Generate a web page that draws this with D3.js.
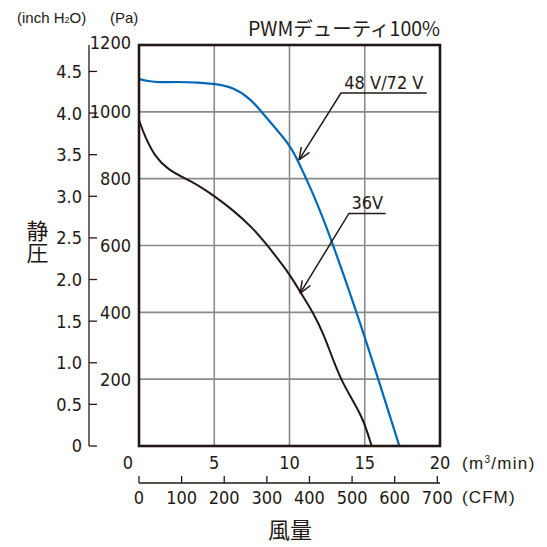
<!DOCTYPE html>
<html><head><meta charset="utf-8">
<script src="https://cdn.jsdelivr.net/npm/d3@7"></script>
<style>
html,body{margin:0;padding:0;background:#fff;}
svg text{fill:#231815;}
</style></head>
<body><svg id="c" width="547" height="547"></svg>
<script>
// ---- data ----
const seriesNames = ["48 V/72 V", "36V"];
const flow48 = [0, 0.6, 1.3, 2.5, 4, 5, 6.27, 7.38, 8.15, 9.1, 10.03, 10.6, 11.1, 11.48, 12.2, 12.91, 14.47, 15.9, 17.3];
const pres48 = [1098, 1092, 1088, 1090, 1088, 1084, 1074, 1040, 1000, 949, 900, 850, 800, 764, 685, 600, 400, 200, 0];
const flow36 = [0, 0.4, 1.06, 1.95, 3.06, 4.17, 5, 6.2, 7.6, 8.44, 9.3, 10.03, 10.8, 11.6, 12.25, 13.0, 13.5, 14.13, 14.8, 15.15, 15.46];
const pres36 = [975, 925, 866, 826, 801, 774, 748, 708, 651, 605, 556, 512, 455, 397, 337, 245, 192, 142, 88, 45, 0];
const paTicks = [200, 400, 600, 800, 1000, 1200];
const inchTicks = [0, 0.5, 1.0, 1.5, 2.0, 2.5, 3.0, 3.5, 4.0, 4.5];
const flowTicks = [0, 5, 10, 15, 20];
const cfmTicks = [0, 100, 200, 300, 400, 500, 600, 700];
const gridX = [5, 10, 15];
const gridY = [200, 400, 600, 800, 1000];
const title = "PWMデューティ100%";
const yTitle = "静圧";
const xTitle = "風量";
// annotation anchors in data units: tip, underline start, underline end
const notes = [
  {label: seriesNames[0], tip: [10.63, 856], start: [13.42, 1056], end: [19.12, 1056]},
  {label: seriesNames[1], tip: [10.70, 457], start: [13.95, 696], end: [16.39, 696]}
];
const PA_PER_INCH = 249.089, M3MIN_PER_CFM = 0.0283168;

// ---- drawing ----
const svg = d3.select("#c");
const ink = "#231815", blue = "#0068b7", gridC = "#8a8a8a";
const numFont = "'Liberation Sans Narrow','Arial Narrow','DejaVu Sans Condensed',sans-serif";
const sansFont = "'Liberation Sans',Arial,sans-serif";
const jpFont = "'Noto Sans CJK JP',sans-serif";
const L = 139, R = 440, T = 45, B = 446;
const x = d3.scaleLinear().domain([0, 20]).range([L, R]);
const y = d3.scaleLinear().domain([0, 1200]).range([B, T]);
const yIn = d3.scaleLinear().domain([0, 1200 / PA_PER_INCH]).range([B, T]);
const xCfm = d3.scaleLinear().domain([0, 20 / M3MIN_PER_CFM]).range([L, R]);

// grid
svg.append("g").selectAll("line").data(gridX).join("line")
  .attr("x1", d => x(d)).attr("x2", d => x(d)).attr("y1", T).attr("y2", B)
  .attr("stroke", gridC).attr("stroke-width", 1.6);
svg.append("g").selectAll("line").data(gridY).join("line")
  .attr("x1", L).attr("x2", R).attr("y1", d => y(d)).attr("y2", d => y(d))
  .attr("stroke", gridC).attr("stroke-width", 1.6);

// curves
const line = d3.line().x(d => x(d[0])).y(d => y(d[1])).curve(d3.curveBasis);
svg.append("path").datum(flow36.map((f, i) => [f, pres36[i]])).attr("d", line)
  .attr("fill", "none").attr("stroke", ink).attr("stroke-width", 2);
svg.append("path").datum(flow48.map((f, i) => [f, pres48[i]])).attr("d", line)
  .attr("fill", "none").attr("stroke", blue).attr("stroke-width", 2.2);

// frame
svg.append("rect").attr("x", L).attr("y", T).attr("width", R - L).attr("height", B - T)
  .attr("fill", "none").attr("stroke", ink).attr("stroke-width", 2.6);

// Pa labels
svg.append("g").selectAll("text").data(paTicks).join("text")
  .attr("x", 131).attr("y", d => y(d) - (d === 1200 ? 2 : 0)).attr("dy", "0.36em")
  .attr("text-anchor", "end").attr("font-family", numFont).attr("font-size", 18)
  .text(d => d);

// inch axis
const gIn = svg.append("g");
gIn.append("line").attr("x1", 89).attr("x2", 89).attr("y1", T).attr("y2", B)
  .attr("stroke", ink).attr("stroke-width", 1.3);
gIn.selectAll("line.t").data(inchTicks).join("line").attr("class", "t")
  .attr("x1", 89).attr("x2", 97).attr("y1", d => yIn(d)).attr("y2", d => yIn(d))
  .attr("stroke", ink).attr("stroke-width", 1.3);
gIn.selectAll("text").data(inchTicks).join("text")
  .attr("x", 82).attr("y", d => yIn(d)).attr("dy", "0.36em")
  .attr("text-anchor", "end").attr("font-family", numFont).attr("font-size", 18)
  .text(d => d === 0 ? "0" : d.toFixed(1));

// flow labels
svg.append("g").selectAll("text").data(flowTicks).join("text")
  .attr("x", d => x(d) + (d === 0 ? -11 : 0)).attr("y", 463).attr("dy", "0.36em")
  .attr("text-anchor", "middle").attr("font-family", numFont).attr("font-size", 18)
  .text(d => d);

// CFM axis
const gC = svg.append("g");
gC.append("line").attr("x1", L).attr("x2", R).attr("y1", 483).attr("y2", 483)
  .attr("stroke", ink).attr("stroke-width", 1.3);
gC.selectAll("line.t").data(cfmTicks).join("line").attr("class", "t")
  .attr("x1", d => xCfm(d)).attr("x2", d => xCfm(d)).attr("y1", 483).attr("y2", 476)
  .attr("stroke", ink).attr("stroke-width", 1.3);
gC.selectAll("text").data(cfmTicks).join("text")
  .attr("x", d => xCfm(d)).attr("y", 498).attr("dy", "0.36em")
  .attr("text-anchor", "middle").attr("font-family", numFont).attr("font-size", 18)
  .text(d => d);

// unit labels
const u1 = svg.append("text").attr("x", 17).attr("y", 23).attr("font-family", sansFont).attr("font-size", 15);
u1.append("tspan").text("(inch H");
u1.append("tspan").attr("font-size", 9).text("2");
u1.append("tspan").text("O)");
svg.append("text").attr("x", 110).attr("y", 23).attr("font-family", sansFont).attr("font-size", 15).text("(Pa)");
const u3 = svg.append("text").attr("x", 462).attr("y", 463).attr("dy", "0.36em").attr("font-family", sansFont)
  .attr("font-size", 17).attr("letter-spacing", 1.3);
u3.append("tspan").text("(m");
u3.append("tspan").attr("font-size", 10).attr("dy", -6).text("3");
u3.append("tspan").attr("dy", 6).text("/min)");
svg.append("text").attr("x", 462).attr("y", 497).attr("dy", "0.36em").attr("font-family", sansFont)
  .attr("font-size", 17).attr("letter-spacing", 1.1).text("(CFM)");

// titles
svg.append("text").attr("x", 440).attr("y", 36).attr("text-anchor", "end")
  .attr("font-family", jpFont).attr("font-size", 19.5).text(title);
svg.append("text").attr("x", 290).attr("y", 538).attr("text-anchor", "middle")
  .attr("font-family", jpFont).attr("font-size", 22).text(xTitle);
svg.append("text").attr("x", 37.5).attr("y", 241.5).attr("text-anchor", "middle")
  .attr("font-family", jpFont).attr("font-size", 22)
  .style("writing-mode", "vertical-rl").style("text-orientation", "upright")
  .text(yTitle);

// annotations
const gA = svg.append("g");
notes.forEach(n => {
  const tx = x(n.tip[0]), ty = y(n.tip[1]);
  const sx = x(n.start[0]), sy = y(n.start[1]);
  const ex = x(n.end[0]);
  gA.append("polyline").attr("points", `${ex},${sy} ${sx},${sy} ${tx},${ty}`)
    .attr("fill", "none").attr("stroke", ink).attr("stroke-width", 1.5);
  const ang = Math.atan2(sy - ty, sx - tx);
  const len = 13, spread = 0.38;
  [ang - spread, ang + spread].forEach(a => {
    gA.append("line").attr("x1", tx).attr("y1", ty)
      .attr("x2", tx + len * Math.cos(a)).attr("y2", ty + len * Math.sin(a))
      .attr("stroke", ink).attr("stroke-width", 1.5);
  });
  gA.append("text").attr("x", (sx + ex) / 2).attr("y", sy - 4).attr("text-anchor", "middle")
    .attr("font-family", numFont).attr("font-size", 18).text(n.label);
});
</script></body></html>
